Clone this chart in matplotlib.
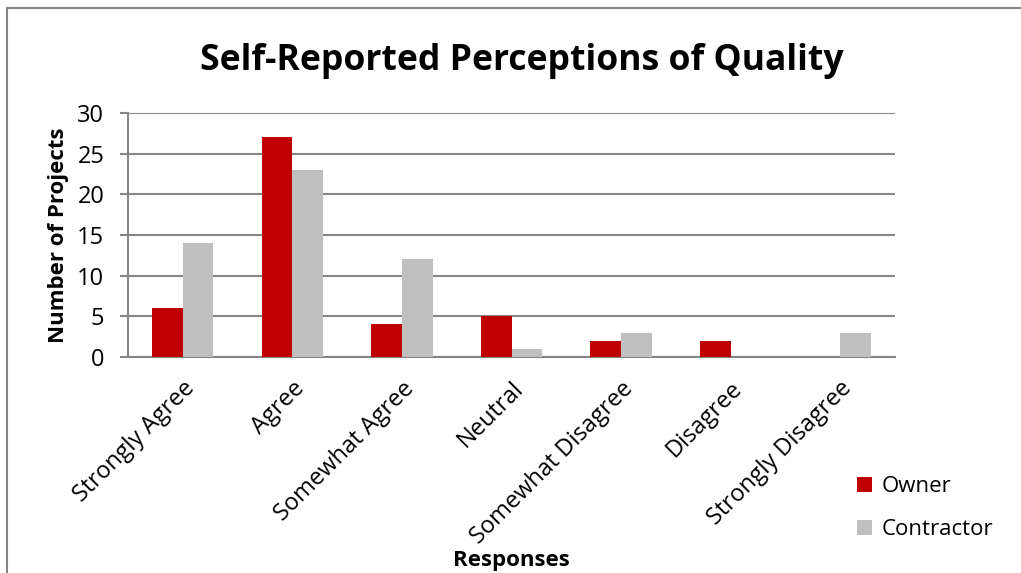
import matplotlib.pyplot as plt
import numpy as np
from matplotlib.patches import Rectangle

# Datos
respuestas = ['Strongly Agree', 'Agree', 'Somewhat Agree', 'Neutral',
              'Somewhat Disagree', 'Disagree', 'Strongly Disagree']
owner = [6, 27, 4, 5, 2, 2, 0]
contractor = [14, 23, 12, 1, 3, 0, 3]

plt.rcParams['font.family'] = ['Open Sans', 'DejaVu Sans']

fig = plt.figure(figsize=(10.21, 5.73), dpi=100)
ax = fig.add_axes([0.1254, 0.377, 0.7512, 0.4258])

x = np.arange(len(respuestas))
width = 0.28

ax.bar(x - width/2, owner, width, color='#C00000', label='Owner', zorder=3)
ax.bar(x + width/2, contractor, width, color='#BFBFBF', label='Contractor', zorder=3)

ax.set_xlim(-0.5, len(respuestas) - 0.5)
ax.set_ylim(0, 30)
ax.set_yticks(range(0, 31, 5))
ax.yaxis.grid(True, color='#868686', linewidth=1.5, zorder=0)

for s in ['top', 'right']:
    ax.spines[s].set_visible(False)
for s in ['left', 'bottom']:
    ax.spines[s].set_color('#868686')
    ax.spines[s].set_linewidth(1.5)

ax.tick_params(axis='y', length=6, width=1.5, color='#868686', labelsize=17, pad=11)
ax.tick_params(axis='x', length=0, pad=14)
ax.set_xticks(x)
ax.set_xticklabels(respuestas, rotation=45, ha='right', rotation_mode='anchor', fontsize=17)

ax.set_ylabel('Number of Projects', fontsize=16, fontweight='bold', labelpad=6)
fig.text(0.501, 0.022, 'Responses', ha='center', va='center', fontsize=16, fontweight='bold')

fig.text(0.511, 0.893, 'Self-Reported Perceptions of Quality', ha='center', va='center',
         fontsize=25.6, fontweight='bold')

fig.legend(loc='lower left', bbox_to_anchor=(0.82, 0.022), frameon=False, fontsize=16,
           handlelength=0.65, handleheight=0.65, handletextpad=0.45, labelspacing=1.0)

# marco (solo arriba e izquierda visibles)
fig.patches.append(Rectangle((0.007, -0.05), 1.05, 1.036, transform=fig.transFigure,
                             fill=False, edgecolor='#868686', linewidth=1.5))

plt.savefig('out.png', dpi=100)
